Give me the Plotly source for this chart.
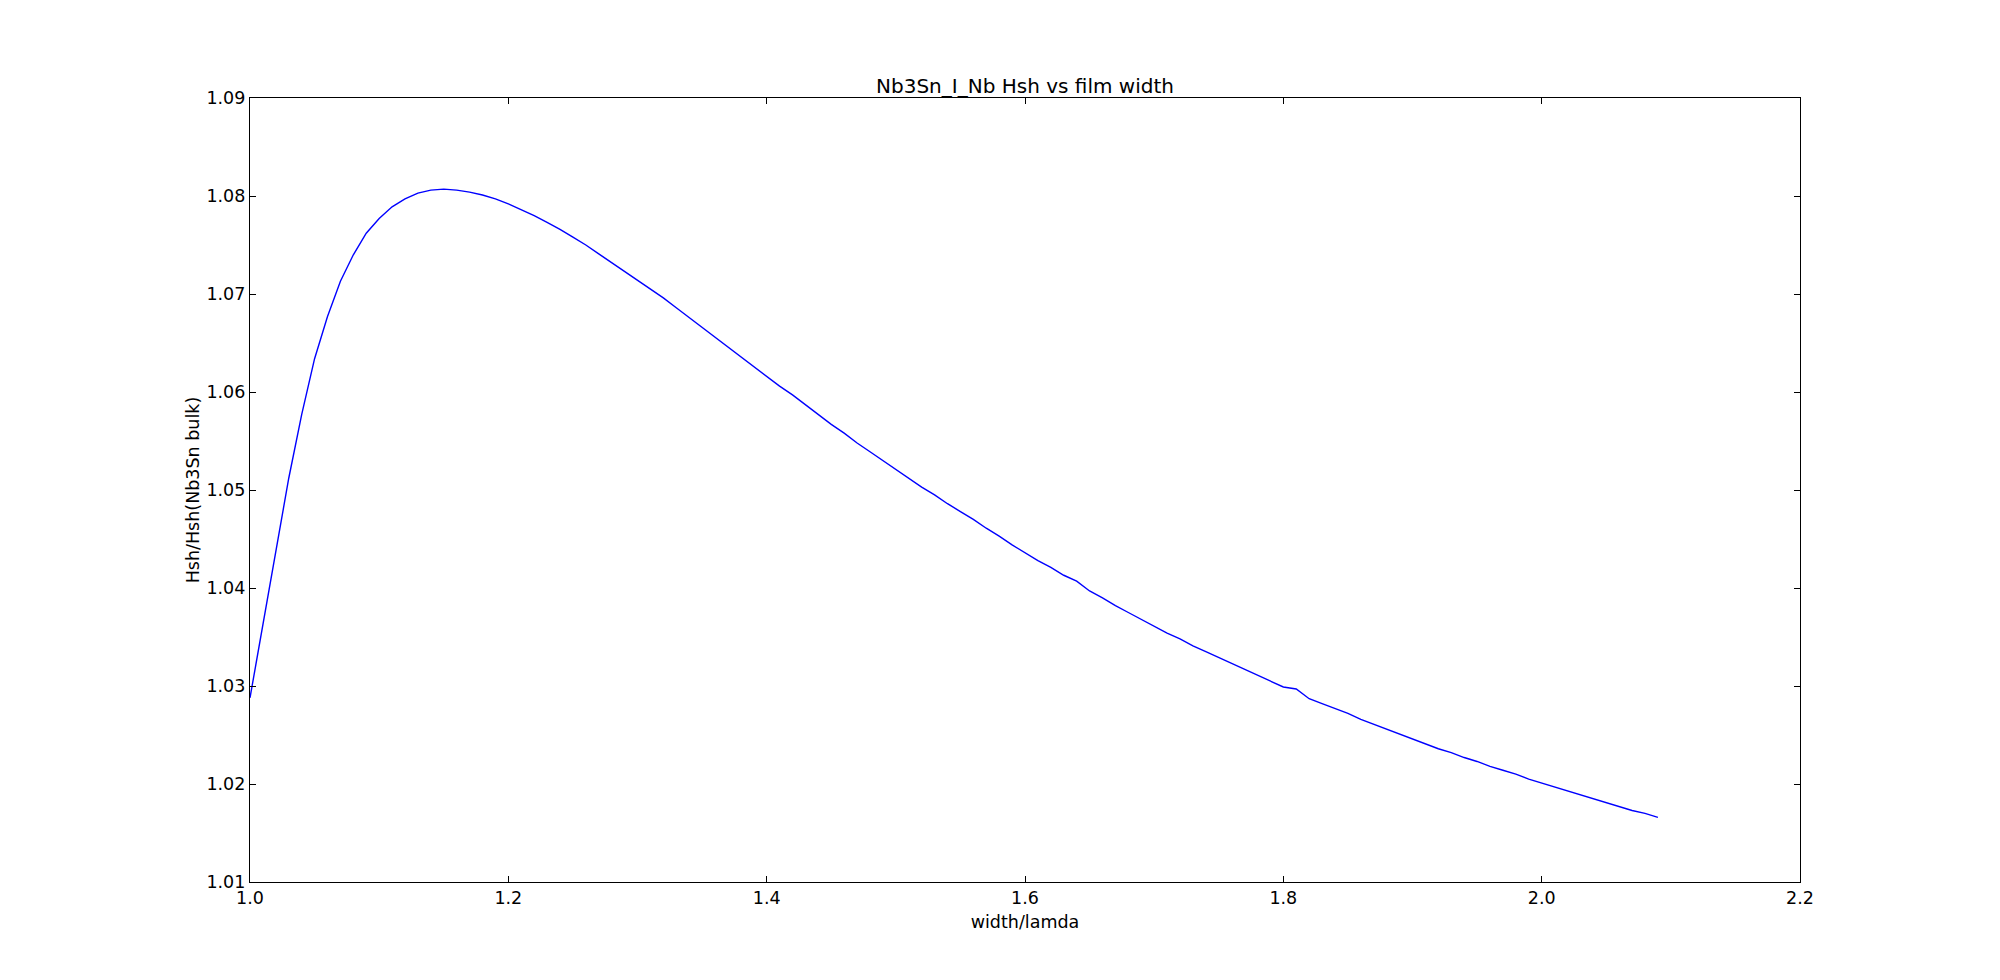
import plotly.graph_objects as go

width_over_lambda = [
    1.00, 1.01, 1.02, 1.03, 1.04, 1.05, 1.06, 1.07, 1.08, 1.09,
    1.10, 1.11, 1.12, 1.13, 1.14, 1.15, 1.16, 1.17, 1.18, 1.19,
    1.20, 1.21, 1.22, 1.23, 1.24, 1.25, 1.26, 1.27, 1.28, 1.29,
    1.30, 1.31, 1.32, 1.33, 1.34, 1.35, 1.36, 1.37, 1.38, 1.39,
    1.40, 1.41, 1.42, 1.43, 1.44, 1.45, 1.46, 1.47, 1.48, 1.49,
    1.50, 1.51, 1.52, 1.53, 1.54, 1.55, 1.56, 1.57, 1.58, 1.59,
    1.60, 1.61, 1.62, 1.63, 1.64, 1.65, 1.66, 1.67, 1.68, 1.69,
    1.70, 1.71, 1.72, 1.73, 1.74, 1.75, 1.76, 1.77, 1.78, 1.79,
    1.80, 1.81, 1.82, 1.83, 1.84, 1.85, 1.86, 1.87, 1.88, 1.89,
    1.90, 1.91, 1.92, 1.93, 1.94, 1.95, 1.96, 1.97, 1.98, 1.99,
    2.00, 2.01, 2.02, 2.03, 2.04, 2.05, 2.06, 2.07, 2.08, 2.09,
]

hsh_ratio = [
    1.0288, 1.0364, 1.0439, 1.0512, 1.0577, 1.0634, 1.0677, 1.0713, 1.0740, 1.0762,
    1.0777, 1.0789, 1.0797, 1.0803, 1.0806, 1.0807, 1.0806, 1.0804, 1.0801, 1.0797,
    1.0792, 1.0786, 1.0780, 1.0773, 1.0766, 1.0758, 1.0750, 1.0741, 1.0732, 1.0723,
    1.0714, 1.0705, 1.0696, 1.0686, 1.0676, 1.0666, 1.0656, 1.0646, 1.0636, 1.0626,
    1.0616, 1.0606, 1.0597, 1.0587, 1.0577, 1.0567, 1.0558, 1.0548, 1.0539, 1.0530,
    1.0521, 1.0512, 1.0503, 1.0495, 1.0486, 1.0478, 1.0470, 1.0461, 1.0453, 1.0444,
    1.0436, 1.0428, 1.0421, 1.0413, 1.0407, 1.0397, 1.0390, 1.0382, 1.0375, 1.0368,
    1.0361, 1.0354, 1.0348, 1.0341, 1.0335, 1.0329, 1.0323, 1.0317, 1.0311, 1.0305,
    1.0299, 1.0297, 1.0287, 1.0282, 1.0277, 1.0272, 1.0266, 1.0261, 1.0256, 1.0251,
    1.0246, 1.0241, 1.0236, 1.0232, 1.0227, 1.0223, 1.0218, 1.0214, 1.0210, 1.0205,
    1.0201, 1.0197, 1.0193, 1.0189, 1.0185, 1.0181, 1.0177, 1.0173, 1.0170, 1.0166,
]

x_ticks = [1.0, 1.2, 1.4, 1.6, 1.8, 2.0, 2.2]
y_ticks = [1.01, 1.02, 1.03, 1.04, 1.05, 1.06, 1.07, 1.08, 1.09]

FONT = "DejaVu Sans"
FS = 17.5

fig = go.Figure()
fig.add_trace(go.Scatter(
    x=width_over_lambda, y=hsh_ratio, mode="lines",
    line=dict(color="#0000ff", width=1.4),
    showlegend=False,
))

axis_common = dict(
    showgrid=False, zeroline=False,
    showline=True, linecolor="black", linewidth=1.3,
    mirror="ticks", ticks="inside", ticklen=6, tickwidth=1, tickcolor="black",
    tickfont=dict(family=FONT, size=FS, color="black"),
)

fig.update_layout(
    width=2000, height=980,
    paper_bgcolor="white", plot_bgcolor="white",
    margin=dict(l=242, r=208, t=90, b=106),
    font=dict(family=FONT, size=FS, color="black"),
    title=dict(
        text="Nb3Sn_I_Nb Hsh vs film width",
        font=dict(family=FONT, size=20, color="black"),
        x=0.5, xref="paper", xanchor="center",
        y=1, yref="paper", yanchor="bottom",
        pad=dict(b=5),
    ),
    xaxis=dict(
        range=[1.0, 2.2], tickvals=x_ticks,
        ticktext=[f"{v:.1f}" for v in x_ticks],
        title=dict(text="width/lamda", font=dict(family=FONT, size=FS), standoff=8),
        ticklabelstandoff=0,
        **axis_common,
    ),
    yaxis=dict(
        range=[1.01, 1.09], tickvals=y_ticks,
        ticktext=[f"{v:.2f}" for v in y_ticks],
        title=dict(text="Hsh/Hsh(Nb3Sn bulk)", font=dict(family=FONT, size=FS), standoff=2),
        ticklabelstandoff=0,
        **axis_common,
    ),
)

fig.write_html("out.html")
